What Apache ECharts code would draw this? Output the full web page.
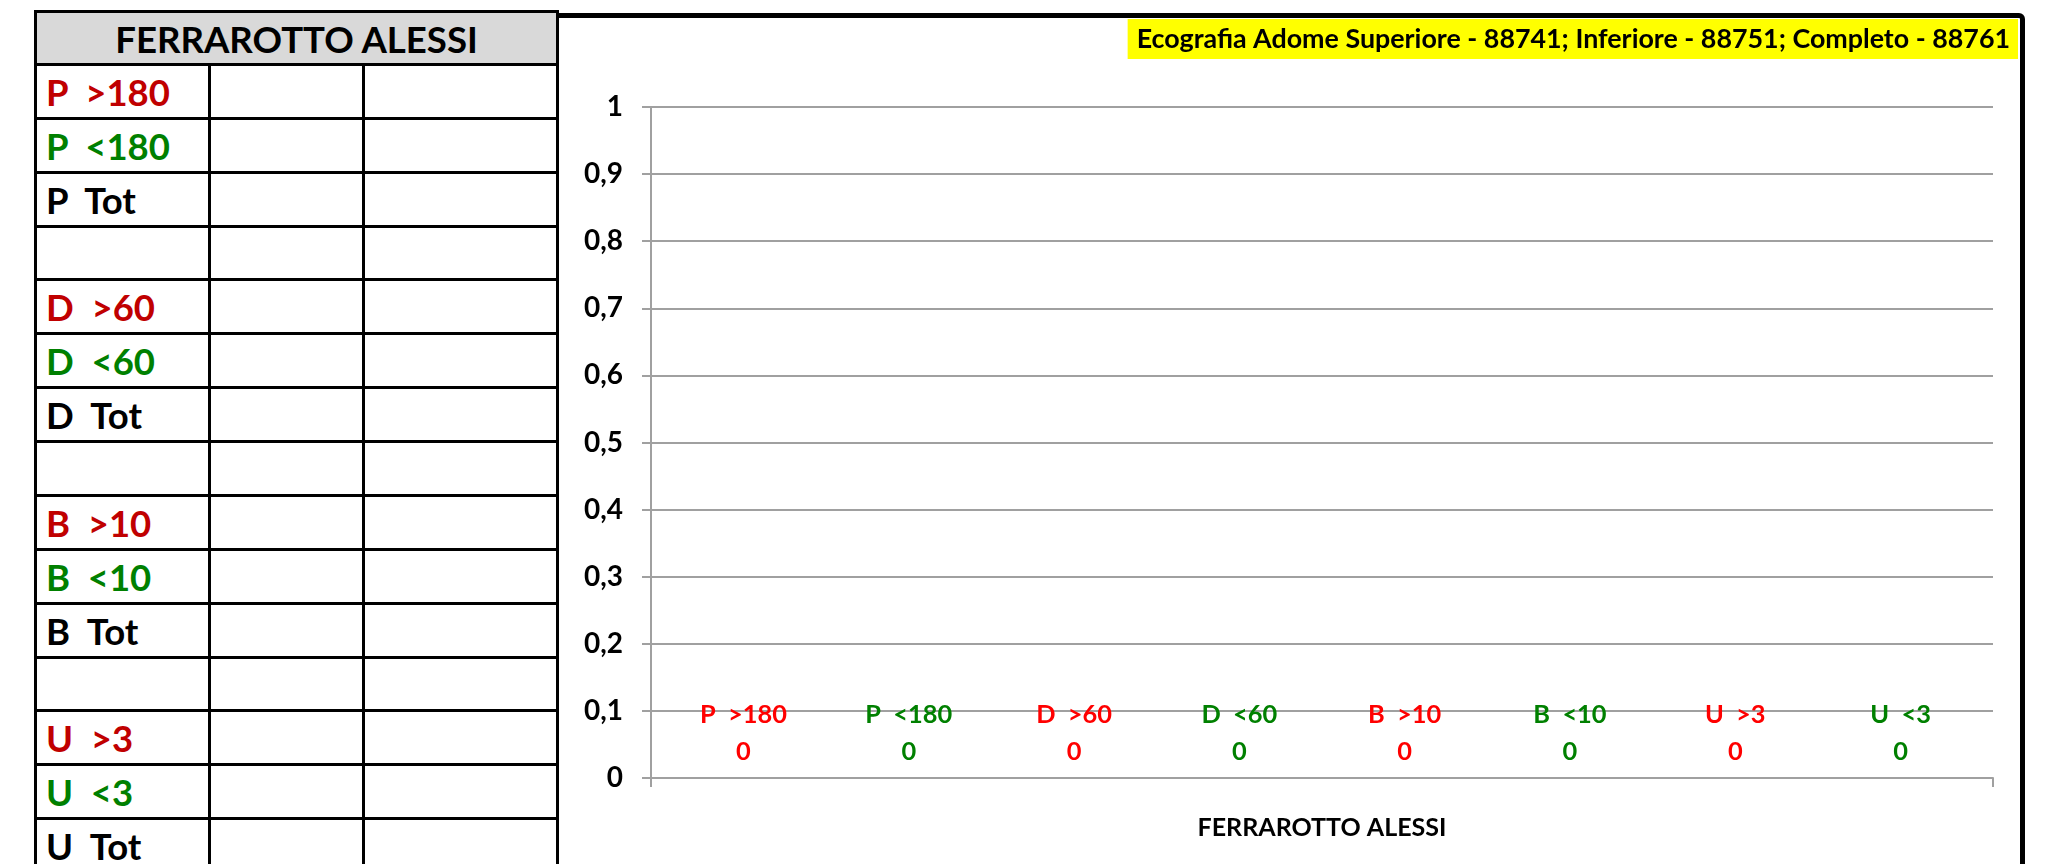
<!DOCTYPE html>
<html>
<head>
<meta charset="utf-8">
<script src="https://cdn.jsdelivr.net/npm/echarts@6/dist/echarts.min.js"></script>
<style>
html,body{margin:0;padding:0;width:2052px;height:864px;overflow:hidden;background:#fff;font-family:Lato,"Open Sans",sans-serif;}
#box{position:absolute;left:553px;top:13px;width:1462px;height:900px;border:5px solid #000;border-top-right-radius:6px;background:#fff;z-index:1;}
#tbl{position:absolute;left:0;top:0;width:600px;height:864px;z-index:2;}
.cell{position:absolute;box-sizing:border-box;border:3px solid #000;background:#fff;font-weight:bold;white-space:pre;display:flex;align-items:center;}
#chart{position:absolute;left:0;top:0;width:2052px;height:864px;z-index:3;}
</style>
</head>
<body>
<div id="box"></div>
<div id="tbl"></div>
<div id="chart"></div>
<script>
// ---------- data ----------
const categories = ['FERRAROTTO ALESSI'];
const seriesNames = ['P  >180', 'P  <180', 'D  >60', 'D  <60', 'B  >10', 'B  <10', 'U  >3', 'U  <3'];
const seriesValues = [[0], [0], [0], [0], [0], [0], [0], [0]];
const yMin = 0, yMax = 1, yStep = 0.1;
const titleText = 'Ecografia Adome Superiore - 88741; Inferiore - 88751; Completo - 88761';
const tableHeader = 'FERRAROTTO ALESSI';
const tableRows = ['P  >180', 'P  <180', 'P  Tot', '', 'D  >60', 'D  <60', 'D  Tot', '', 'B  >10', 'B  <10', 'B  Tot', '', 'U  >3', 'U  <3', 'U  Tot'];

// ---------- style helpers ----------
const FONT = 'Lato';
function fitSize(text, target) {
  const c = document.createElement('canvas').getContext('2d');
  c.font = 'bold 100px ' + FONT;
  return 100 * target / c.measureText(text).width;
}
function kindColor(label, red, green) {
  if (label.indexOf('>') >= 0) return red;
  if (label.indexOf('<') >= 0) return green;
  return '#000000';
}

// ---------- table (spreadsheet part) ----------
(function buildTable() {
  const tbl = document.getElementById('tbl');
  const colX = [34, 208, 362, 556];
  const headTop = 10, headBottom = 63, rowH = 53.87;
  const hdr = document.createElement('div');
  hdr.className = 'cell';
  hdr.style.cssText = `left:${colX[0]}px;top:${headTop}px;width:${colX[3] - colX[0] + 3}px;height:${headBottom - headTop + 3}px;background:#d9d9d9;justify-content:center;padding-top:1px;font-size:${fitSize(tableHeader, 364)}px;color:#000;`;
  hdr.textContent = tableHeader;
  tbl.appendChild(hdr);
  const rowFont = fitSize('P  >180', 125);
  tableRows.forEach((lab, i) => {
    for (let j = 0; j < 3; j++) {
      const d = document.createElement('div');
      d.className = 'cell';
      const top = headBottom + i * rowH;
      d.style.cssText = `left:${colX[j]}px;top:${top}px;width:${colX[j + 1] - colX[j] + 3}px;height:${rowH + 3}px;`;
      if (j === 0) {
        d.style.paddingLeft = '9px';
        d.style.paddingTop = '1px';
        d.style.fontSize = rowFont + 'px';
        d.style.color = kindColor(lab, '#c00000', '#008000');
        d.textContent = lab;
      }
      tbl.appendChild(d);
    }
  });
})();

// ---------- chart ----------
const chart = echarts.init(document.getElementById('chart'), null, { renderer: 'canvas' });
const gridColor = '#a0a0a0';
const labelSize = fitSize('P  >180', 87);
const series = seriesNames.map((name, i) => {
  const col = kindColor(name, '#ff0000', '#008000');
  return {
    name: name,
    type: 'bar',
    data: seriesValues[i],
    barWidth: 100,
    barGap: '65.3%',
    itemStyle: { color: col },
    label: {
      show: true,
      position: 'top',
      distance: 8,
      formatter: '{a}\n{c}',
      color: col,
      fontFamily: FONT,
      fontWeight: 'bold',
      fontSize: labelSize,
      lineHeight: 37
    }
  };
});

chart.setOption({
  backgroundColor: 'transparent',
  animation: false,
  title: {
    text: titleText,
    right: 34,
    top: 19,
    backgroundColor: '#ffff00',
    padding: [0, 8, 0, 9],
    textStyle: {
      fontFamily: FONT,
      fontWeight: 'bold',
      fontSize: fitSize(titleText, 874),
      lineHeight: 40,
      color: '#000'
    }
  },
  grid: { left: 651, right: 59, top: 107, bottom: 86, containLabel: false, outerBoundsMode: 'none' },
  xAxis: {
    type: 'category',
    data: categories,
    axisLine: { show: true, lineStyle: { color: gridColor, width: 2 } },
    axisTick: { show: true, length: 9, inside: false, lineStyle: { color: gridColor, width: 2 } },
    axisLabel: {
      margin: 37,
      color: '#000',
      fontFamily: FONT,
      fontWeight: 'bold',
      fontSize: fitSize(categories[0], 249)
    },
    splitLine: { show: false }
  },
  yAxis: {
    type: 'value',
    min: yMin,
    max: yMax,
    interval: yStep,
    axisLine: { show: true, lineStyle: { color: gridColor, width: 2 } },
    axisTick: { show: true, length: 9, inside: false, lineStyle: { color: gridColor, width: 2 } },
    axisLabel: {
      margin: 28,
      color: '#000',
      fontFamily: FONT,
      fontWeight: 'bold',
      fontSize: fitSize('0,9', 39),
      formatter: v => String(Math.round(v * 10) / 10).replace('.', ',')
    },
    splitLine: { show: true, lineStyle: { color: gridColor, width: 2 } }
  },
  series: series
});
</script>
</body>
</html>
